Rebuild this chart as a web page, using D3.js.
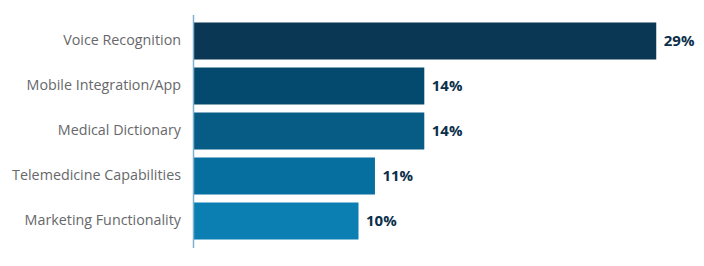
<!DOCTYPE html>
<html>
<head>
<meta charset="utf-8">
<script src="https://cdn.jsdelivr.net/npm/d3@7"></script>
<style>
  body { margin: 0; background: #fff; }
  .cat { font-family: "Open Sans", sans-serif; font-size: 14.3px; fill: #67686b; }
  .val { font-family: "Open Sans", sans-serif; font-size: 15px; font-weight: 700; fill: #0b2f4a; }
</style>
</head>
<body>
<div id="viz"></div>
<script>
// chart data
var categories = ["Voice Recognition", "Mobile Integration/App", "Medical Dictionary", "Telemedicine Capabilities", "Marketing Functionality"];
var barValues = [28.1, 14, 14, 11, 10];
var valueLabels = ["29%", "14%", "14%", "11%", "10%"];
var barColors = ["#0a3754", "#044a6e", "#075c85", "#066f9f", "#0b7fb2"];

var width = 704, height = 266;

var svg = d3.select("#viz").append("svg")
  .attr("width", width)
  .attr("height", height);

// setup x
var xScale = d3.scaleLinear().domain([0, 30]).range([194, 687.5]);

// setup y
var yScale = d3.scaleBand()
  .domain(categories)
  .range([18.5, 243.5])
  .paddingInner(8 / 45)
  .paddingOuter(4 / 45);

var data = categories.map(function (c, i) {
  return { cat: c, value: barValues[i], label: valueLabels[i], color: barColors[i] };
});

// bars
svg.selectAll(".bar")
  .data(data)
  .enter().append("rect")
  .attr("class", "bar")
  .attr("x", xScale(0))
  .attr("y", function (d) { return yScale(d.cat); })
  .attr("width", function (d) { return xScale(d.value) - xScale(0); })
  .attr("height", yScale.bandwidth())
  .style("fill", function (d) { return d.color; });

// axis line
svg.append("line")
  .attr("x1", xScale(0) - 0.5)
  .attr("x2", xScale(0) - 0.5)
  .attr("y1", 15)
  .attr("y2", 248)
  .style("stroke", "#7fb1cf")
  .style("stroke-width", 1.5);

// category labels
svg.selectAll(".cat")
  .data(data)
  .enter().append("text")
  .attr("class", "cat")
  .attr("x", 181)
  .attr("y", function (d) { return yScale(d.cat) + yScale.bandwidth() / 2 - 1.5; })
  .attr("dy", ".35em")
  .style("text-anchor", "end")
  .text(function (d) { return d.cat; });

// value labels
svg.selectAll(".val")
  .data(data)
  .enter().append("text")
  .attr("class", "val")
  .attr("x", function (d) { return xScale(d.value) + 7.5; })
  .attr("y", function (d) { return yScale(d.cat) + yScale.bandwidth() / 2; })
  .attr("dy", ".35em")
  .text(function (d) { return d.label; });
</script>
</body>
</html>
